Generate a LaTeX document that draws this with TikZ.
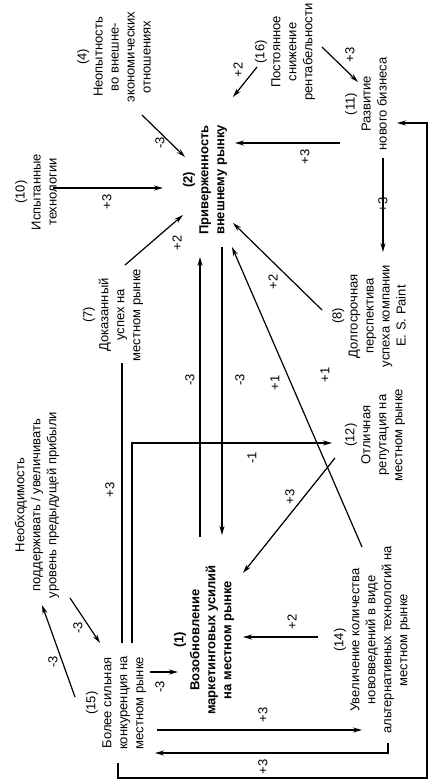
\documentclass[tikz,border=0pt]{standalone}
\usepackage{fontspec}
\setmainfont{Liberation Sans}
\usetikzlibrary{arrows.meta}
\begin{document}
\begin{tikzpicture}[x=1pt,y=-1pt,
  txt/.style={rotate=90, align=center, inner sep=1pt, font=\fontsize{13}{16}\selectfont},
  btxt/.style={rotate=90, align=center, inner sep=1pt, font=\fontsize{13}{16}\selectfont\bfseries},
  lbl/.style={rotate=90, inner sep=0pt, font=\fontsize{13}{13}\selectfont},
  arr/.style={-{Stealth[length=9pt,width=5pt]}, line width=1.2pt},
  ln/.style={line width=1.2pt}]
\useasboundingbox (0,0) rectangle (431,783);
% nodes
\node[txt] (n10) at (36,192) {(10)\\Испытанные\\технологии};
\node[txt] (n4) at (114,57) {(4)\\Неопытность\\во внешне-\\экономических\\отношениях};
\node[txt] (n16) at (285,52) {(16)\\Постоянное\\снижение\\рентабельности};
\node[btxt] (n2) at (205,180) {(2)\\Приверженность\\внешнему рынку};
\node[txt] (n11) at (366,104) {(11)\\Развитие\\нового бизнеса};
\node[txt] (n7) at (113,315) {(7)\\Доказанный\\успех на\\местном рынке};
\node[txt] (n8) at (369,316) {(8)\\Долгосрочная\\перспектива\\успеха компании\\E. S. Paint};
\node[txt] (n12) at (375,435) {(12)\\Отличная\\репутация на\\местном рынке};
\node[txt] (n0) at (37,505) {Необходимость\\поддерживать / увеличивать\\уровень предыдущей прибыли};
\node[btxt] (n1) at (204,640) {(1)\\Возобновление\\маркетинговых усилий\\на местном рынке};
\node[txt] (n14) at (372,640) {(14)\\Увеличение количества\\нововведений в виде\\альтернативных технологий на\\местном рынке};
\node[txt] (n15) at (116,703) {(15)\\Более сильная\\конкуренция на\\местном рынке};
% connector end points
\coordinate (a1s) at (53,188);   \coordinate (a1e) at (163,188);
\coordinate (a2s) at (142,115);  \coordinate (a2e) at (185,157);
\coordinate (a3s) at (125,265);  \coordinate (a3e) at (183,215);
\coordinate (a4s) at (257,67);   \coordinate (a4e) at (233,97);
\coordinate (a5s) at (340,143);  \coordinate (a5e) at (235,143);
\coordinate (a6s) at (322,47);   \coordinate (a6e) at (358,82);
\coordinate (a7s) at (383,158);  \coordinate (a7e) at (383,252);
\coordinate (a8s) at (322,310);  \coordinate (a8e) at (233,223);
\coordinate (a9s) at (362,547);  \coordinate (a9e) at (232,247);
\coordinate (a10s) at (200,537); \coordinate (a10e) at (200,257);
\coordinate (a11s) at (222,247); \coordinate (a11e) at (222,535);
\coordinate (a12s) at (335,458); \coordinate (a12e) at (243,573);
\coordinate (a13s) at (318,637); \coordinate (a13e) at (243,637);
\coordinate (a14s) at (150,672); \coordinate (a14e) at (178,672);
\coordinate (a15s) at (75,697);  \coordinate (a15e) at (42,605);
\coordinate (a16s) at (70,598);  \coordinate (a16e) at (100,643);
\coordinate (a17s) at (122,643); \coordinate (a17e) at (122,363);
\coordinate (a18s) at (132,643); \coordinate (a18e) at (332,443);
\coordinate (a19s) at (157,730); \coordinate (a19e) at (362,730);
\coordinate (a20s) at (388,743); \coordinate (a20e) at (155,753);
\coordinate (a21s) at (118,763); \coordinate (a21e) at (397,123);
% connectors
\draw[arr] (a1s) -- (a1e);
\draw[arr] (a2s) -- (a2e);
\draw[arr] (a3s) -- (a3e);
\draw[arr] (a4s) -- (a4e);
\draw[arr] (a5s) -- (a5e);
\draw[arr] (a6s) -- (a6e);
\draw[arr] (a7s) -- (a7e);
\draw[arr] (a8s) -- (a8e);
\draw[arr] (a9s) -- (a9e);
\draw[arr] (a10s) -- (a10e);
\draw[arr] (a11s) -- (a11e);
\draw[arr] (a12s) -- (a12e);
\draw[arr] (a13s) -- (a13e);
\draw[arr] (a14s) -- (a14e);
\draw[arr] (a15s) -- (a15e);
\draw[arr] (a16s) -- (a16e);
\draw[ln] (a17s) -- (a17e);
\draw[arr] (a18s) |- (a18e);
\draw[arr] (a19s) -- (a19e);
\draw[arr] (a20s) |- (a20e);
\draw[arr] (a21s) -- (118,778) -- (427,778) |- (a21e);
% labels
\node[lbl] at (107,202) {+3};
\node[lbl] at (160,143) {-3};
\node[lbl] at (177,243) {+2};
\node[lbl] at (238,70) {+2};
\node[lbl] at (305,157) {+3};
\node[lbl] at (350,55) {+3};
\node[lbl] at (383,205) {+3};
\node[lbl] at (273,282) {+2};
\node[lbl] at (275,383) {+1};
\node[lbl] at (325,375) {+1};
\node[lbl] at (190,380) {-3};
\node[lbl] at (240,380) {-3};
\node[lbl] at (290,497) {+3};
\node[lbl] at (292,622) {+2};
\node[lbl] at (160,687) {-3};
\node[lbl] at (53,662) {-3};
\node[lbl] at (78,628) {-3};
\node[lbl] at (110,490) {+3};
\node[lbl] at (252,458) {-1};
\node[lbl] at (263,715) {+3};
\node[lbl] at (263,767) {+3};
\end{tikzpicture}
\end{document}
